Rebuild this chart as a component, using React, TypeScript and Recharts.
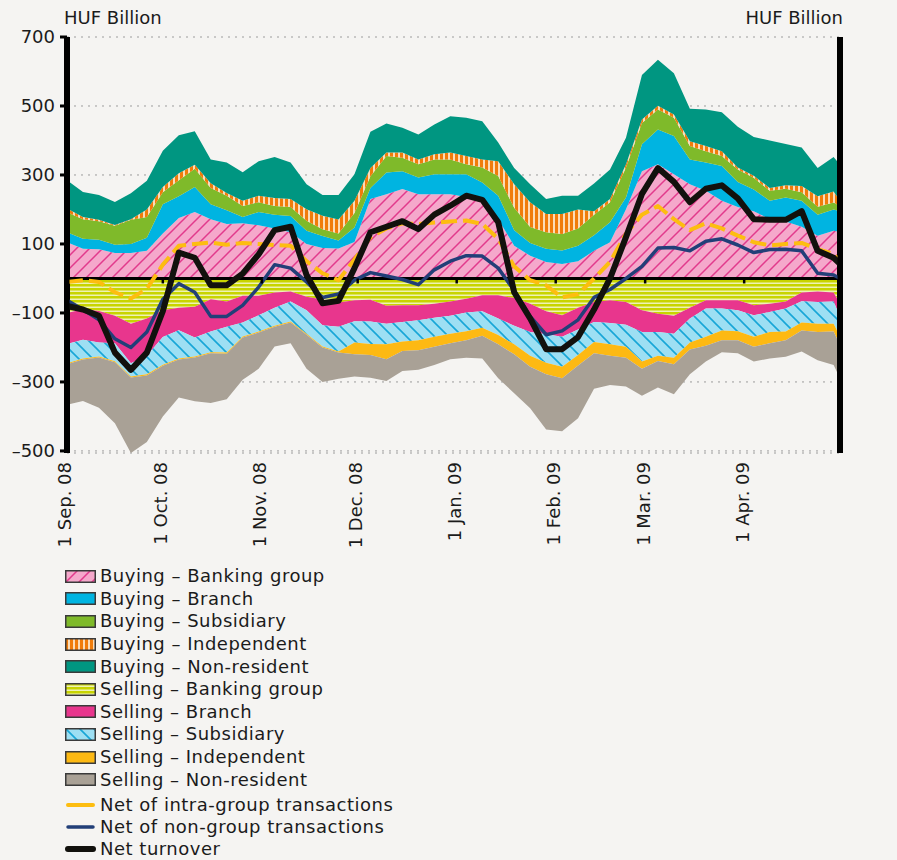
import {
  CartesianGrid,
  ComposedChart,
  Area,
  Line,
  Scatter,
  ReferenceLine,
  XAxis,
  YAxis,
} from "recharts";

// day offsets from 1 Sep 2008
const days = [
  0, 5, 10, 15, 20, 25, 30, 35, 40, 45, 50, 55, 60, 65, 70, 75, 80, 85, 90, 95,
  100, 105, 110, 115, 120, 125, 130, 135, 140, 145, 150, 155, 160, 165, 170, 175,
  180, 185, 190, 195, 200, 205, 210, 215, 220, 225, 230, 235, 240, 242,
];

const buyBank = [
  105, 86, 85, 74, 74, 80, 130, 175, 193, 172, 158, 160, 154, 145, 134, 100, 88, 87, 106, 230,
  244, 259, 244, 244, 244, 236, 225, 172, 95, 66, 48, 42, 50, 80, 105, 201,
  311, 331, 302, 273, 254, 225, 207, 195, 172, 165, 150, 124, 138, 135,
];
const buyBranch = [
  29, 29, 27, 24, 26, 38, 85, 63, 72, 43, 40, 18, 39, 40, 47, 38, 35, 23, 42, 32,
  63, 52, 49, 58, 58, 66, 53, 68, 45, 37, 38, 39, 45, 45, 58, 34,
  78, 101, 111, 72, 82, 101, 73, 63, 53, 70, 75, 61, 62, 60,
];
const buySub = [
  58, 57, 54, 55, 70, 60, 35, 47, 53, 47, 42, 32, 28, 25, 26, 29, 20, 20, 42, 34,
  48, 39, 38, 43, 43, 29, 44, 57, 65, 46, 48, 48, 50, 60, 58, 87,
  62, 58, 53, 39, 33, 29, 36, 34, 29, 25, 25, 23, 20, 15,
];
const buyInd = [
  11, 6, 4, 2, 2, 22, 15, 20, 12, 14, 8, 15, 19, 23, 23, 34, 39, 41, 35, 24,
  10, 15, 14, 15, 20, 24, 23, 43, 68, 72, 53, 58, 55, 10, 9, 9,
  10, 11, 9, 14, 15, 14, 6, 6, 8, 10, 18, 30, 32, 15,
];
const buyNonRes = [
  82, 73, 72, 67, 75, 83, 105, 110, 97, 69, 88, 83, 100, 119, 106, 72, 60, 71, 77, 105,
  84, 72, 72, 86, 105, 111, 111, 54, 47, 52, 43, 53, 40, 80, 86, 77,
  129, 133, 120, 94, 106, 113, 118, 112, 138, 120, 112, 82, 100, 105,
];

const sellBank = [
  -100, -89, -94, -108, -131, -116, -92, -85, -82, -60, -67, -50, -50, -41, -38, -53, -61, -70, -63, -62,
  -79, -78, -78, -73, -67, -59, -49, -49, -57, -73, -95, -107, -85, -68, -63, -68,
  -92, -102, -108, -85, -63, -63, -63, -78, -73, -67, -41, -38, -41, -73,
];
const sellBranch = [
  -90, -89, -92, -80, -115, -108, -78, -65, -89, -94, -73, -78, -57, -44, -29, -39, -75, -70, -61, -63,
  -52, -48, -43, -41, -41, -40, -46, -67, -80, -82, -67, -62, -63, -58, -66, -66,
  -63, -53, -52, -31, -24, -24, -29, -29, -24, -20, -25, -30, -26, -38,
];
const sellSub = [
  -56, -54, -40, -52, -38, -54, -80, -82, -55, -60, -75, -40, -47, -52, -58, -68, -61, -72, -62, -65,
  -60, -57, -58, -55, -52, -54, -48, -48, -54, -69, -82, -87, -74, -58, -62, -64,
  -86, -69, -70, -70, -82, -64, -61, -62, -58, -67, -62, -63, -64, -57,
];
const sellInd = [
  -3, -3, -3, -3, -3, -3, -3, -3, -3, -3, -3, -3, -3, -3, -3, -3, -3, -3, -34, -32,
  -43, -27, -29, -29, -28, -26, -23, -27, -29, -32, -34, -33, -30, -33, -33, -32,
  -21, -15, -19, -20, -26, -28, -26, -29, -33, -25, -23, -24, -23, -25,
];
const sellNonRes = [
  -117, -120, -146, -177, -219, -193, -147, -110, -127, -144, -132, -123, -105, -57, -60, -99, -100, -76, -64, -66,
  -63, -58, -57, -53, -46, -51, -66, -98, -113, -120, -160, -154, -153, -103, -85, -83,
  -78, -77, -87, -72, -46, -35, -38, -43, -44, -48, -61, -82, -97, -96,
];

const netIntra = [
  -10, -5, -10, -40, -58, -30, 40, 95, 100, 104, 98, 103, 100, 97, 95, 50, 15, -5, 55, 120,
  145, 160, 158, 162, 165, 168, 158, 115, 35, -5, -20, -55, -45, 0, 48, 130,
  185, 210, 172, 140, 160, 145, 124, 105, 96, 100, 103, 85, 71, 50,
];
const netNonGroup = [
  -63, -90, -120, -175, -200, -155, -60, -15, -40, -110, -110, -78, -25, 40, 30, -10, -55, -45, -5, 17,
  7, -3, -18, 25, 50, 66, 65, 30, -35, -110, -163, -152, -120, -55, -32, 0,
  35, 88, 90, 80, 108, 115, 97, 75, 84, 85, 80, 15, 10, 0,
];
const netTurnover = [
  -80, -90, -108, -215, -265, -215, -95, 75, 60, -20, -20, 14, 70, 140, 150, 10, -72, -65, 30, 134,
  150, 166, 143, 185, 211, 240, 228, 163, -40, -116, -205, -205, -170, -90, 0, 120,
  245, 320, 280, 221, 260, 270, 232, 172, 170, 170, 195, 80, 60, 42,
];

const monthTicks = [0, 30, 61, 91, 122, 153, 181, 212];
const monthLabels = [
  "1 Sep. 08", "1 Oct. 08", "1 Nov. 08", "1 Dec. 08",
  "1 Jan. 09", "1 Feb. 09", "1 Mar. 09", "1 Apr. 09",
];
const yTicks = [700, 500, 300, 100, -100, -300, -500];
const xEnds = [0, 242];

const rows = days.map((day, i) => ({
  day,
  buyBank: buyBank[i],
  buyBranch: buyBranch[i],
  buySub: buySub[i],
  buyInd: buyInd[i],
  buyNonRes: buyNonRes[i],
  sellBank: sellBank[i],
  sellBranch: sellBranch[i],
  sellSub: sellSub[i],
  sellInd: sellInd[i],
  sellNonRes: sellNonRes[i],
  netIntra: netIntra[i],
  netNonGroup: netNonGroup[i],
  netTurnover: netTurnover[i],
}));

const tickRows = monthTicks.map((day) => ({ day, zero: 0 }));

const AREAS = [
  { key: "buyBank", name: "Buying – Banking group", fill: "url(#pinkHatch)" },
  { key: "buyBranch", name: "Buying – Branch", fill: "#00b4e1" },
  { key: "buySub", name: "Buying – Subsidiary", fill: "#7fba2a" },
  { key: "buyInd", name: "Buying – Independent", fill: "url(#orangeStripe)" },
  { key: "buyNonRes", name: "Buying – Non-resident", fill: "#009681" },
  { key: "sellBank", name: "Selling – Banking group", fill: "url(#ygStripe)" },
  { key: "sellBranch", name: "Selling – Branch", fill: "#e8368d" },
  { key: "sellSub", name: "Selling – Subsidiary", fill: "url(#blueHatch)" },
  { key: "sellInd", name: "Selling – Independent", fill: "#fdb913" },
  { key: "sellNonRes", name: "Selling – Non-resident", fill: "#a9a196" },
];

const LINES = [
  { key: "netIntra", name: "Net of intra-group transactions", color: "#fdbd10", width: 4, dash: "16 6" },
  { key: "netNonGroup", name: "Net of non-group transactions", color: "#223f78", width: 3.5, dash: undefined },
  { key: "netTurnover", name: "Net turnover", color: "#12110d", width: 6, dash: undefined },
];

const FONT = "'DejaVu Sans', sans-serif";
const TEXT = "#1b1b1b";

const fmtY = (v: number) => (v < 0 ? `–${Math.abs(v)}` : String(v));

function MonthTick({ x, y, payload }: { x?: number; y?: number; payload?: { value: number } }) {
  const idx = monthTicks.indexOf(payload?.value ?? -1);
  const ty = (y ?? 0) + 9;
  const tx = (x ?? 0) - 2;
  return (
    <text
      x={tx}
      y={ty}
      transform={`rotate(-90, ${tx}, ${ty})`}
      textAnchor="end"
      dy="0.36em"
      fontSize={18}
      fontFamily={FONT}
      fill={TEXT}
    >
      {monthLabels[idx] ?? ""}
    </text>
  );
}

function TickMark({ cx, cy }: { cx?: number; cy?: number }) {
  if (cx == null || cy == null) return null;
  return <line x1={cx} x2={cx} y1={cy} y2={cy + 5} stroke="#000" strokeWidth={2.5} />;
}

function PatternDefs() {
  return (
    <svg width={0} height={0} style={{ position: "absolute" }}>
      <defs>
        <pattern id="pinkHatch" patternUnits="userSpaceOnUse" width={13} height={13}>
          <rect width={13} height={13} fill="#f5a8cb" />
          <path d="M0,13 L13,0 M-3,3 L3,-3 M10,16 L16,10" stroke="#e23a8c" strokeWidth={1.5} />
        </pattern>
        <pattern id="blueHatch" patternUnits="userSpaceOnUse" width={14} height={14}>
          <rect width={14} height={14} fill="#9ddff3" />
          <path d="M0,0 L14,14 M-3,11 L3,17 M11,-3 L17,3" stroke="#17a6d7" strokeWidth={1.6} />
        </pattern>
        <pattern id="orangeStripe" patternUnits="userSpaceOnUse" width={5} height={5}>
          <rect width={5} height={5} fill="#fcdcb6" />
          <rect width={3} height={5} fill="#f07c0a" />
        </pattern>
        <pattern id="ygStripe" patternUnits="userSpaceOnUse" width={4} height={4}>
          <rect width={4} height={4} fill="#eef2b4" />
          <rect width={4} height={2.5} fill="#c8d400" />
        </pattern>
      </defs>
    </svg>
  );
}

export default function App() {
  return (
    <div
      style={{
        position: "absolute",
        left: 0,
        top: 0,
        width: 897,
        height: 860,
        background: "#f5f4f2",
        fontFamily: FONT,
        color: TEXT,
        overflow: "hidden",
      }}
    >
      <PatternDefs />
      <div style={{ position: "absolute", left: 64, top: 7, fontSize: 18 }}>HUF Billion</div>
      <div style={{ position: "absolute", right: 897 - 843, top: 7, fontSize: 18 }}>HUF Billion</div>

      <div style={{ position: "absolute", left: 0, top: 0 }}>
        <ComposedChart
          width={897}
          height={560}
          data={rows}
          stackOffset="sign"
          margin={{ top: 37, right: 0, bottom: 0, left: 0 }}
        >
          <CartesianGrid vertical={false} stroke="#9c9c9c" strokeDasharray="2 5" />
          <XAxis
            dataKey="day"
            type="number"
            domain={[0, 242]}
            ticks={monthTicks}
            interval={0}
            tick={<MonthTick />}
            tickLine={false}
            axisLine={false}
            tickSize={0}
            tickMargin={0}
            height={107}
          />
          <YAxis
            domain={[-500, 700]}
            ticks={yTicks}
            interval={0}
            width={67}
            tickFormatter={fmtY}
            axisLine={{ stroke: "#000", strokeWidth: 5 }}
            tickLine={{ stroke: "#000", strokeWidth: 3 }}
            tickSize={7}
            tickMargin={5}
            tick={{ fontSize: 18, fill: TEXT, fontFamily: FONT }}
          />
          <YAxis
            yAxisId="r"
            orientation="right"
            domain={[-500, 700]}
            ticks={yTicks}
            interval={0}
            width={57}
            tickFormatter={fmtY}
            axisLine={{ stroke: "#000", strokeWidth: 5 }}
            tickLine={{ stroke: "#000", strokeWidth: 3 }}
            tickSize={7}
            tickMargin={3}
            tick={{ fontSize: 18, fill: TEXT, fontFamily: FONT }}
          />
          {AREAS.map((a) => (
            <Area
              key={a.key}
              type="linear"
              dataKey={a.key}
              name={a.name}
              stackId="flow"
              fill={a.fill}
              fillOpacity={1}
              stroke="none"
              dot={false}
              activeDot={false}
              isAnimationActive={false}
            />
          ))}
          <ReferenceLine y={0} stroke="#000" strokeWidth={3} />
          {xEnds.map((d) => (
            <ReferenceLine key={d} x={d} stroke="#000" strokeWidth={6} ifOverflow="visible" />
          ))}
          <Scatter data={tickRows} dataKey="zero" shape={<TickMark />} isAnimationActive={false} />
          {LINES.map((l) => (
            <Line
              key={l.key}
              type="linear"
              dataKey={l.key}
              name={l.name}
              stroke={l.color}
              strokeWidth={l.width}
              strokeDasharray={l.dash}
              strokeLinejoin="round"
              dot={false}
              activeDot={false}
              isAnimationActive={false}
            />
          ))}
        </ComposedChart>
      </div>

      <div style={{ position: "absolute", left: 65, top: 565, fontSize: 18, letterSpacing: 0.5 }}>
        {AREAS.map((a) => (
          <div key={a.key} style={{ height: 22.6, display: "flex", alignItems: "center" }}>
            <svg width={31} height={13} style={{ marginRight: 4 }}>
              <rect x={0.75} y={0.75} width={29.5} height={11.5} fill={a.fill} stroke="#3a3a3a" strokeWidth={1.5} />
            </svg>
            <span style={{ lineHeight: "22px" }}>{a.name}</span>
          </div>
        ))}
        <div style={{ height: 3 }} />
        {LINES.map((l) => (
          <div key={l.key} style={{ height: 22, display: "flex", alignItems: "center" }}>
            <svg width={31} height={10} style={{ marginRight: 4 }}>
              <line x1={3} x2={28} y1={5} y2={5} stroke={l.color} strokeWidth={l.width} strokeLinecap="round" />
            </svg>
            <span style={{ lineHeight: "22px" }}>{l.name}</span>
          </div>
        ))}
      </div>
    </div>
  );
}
